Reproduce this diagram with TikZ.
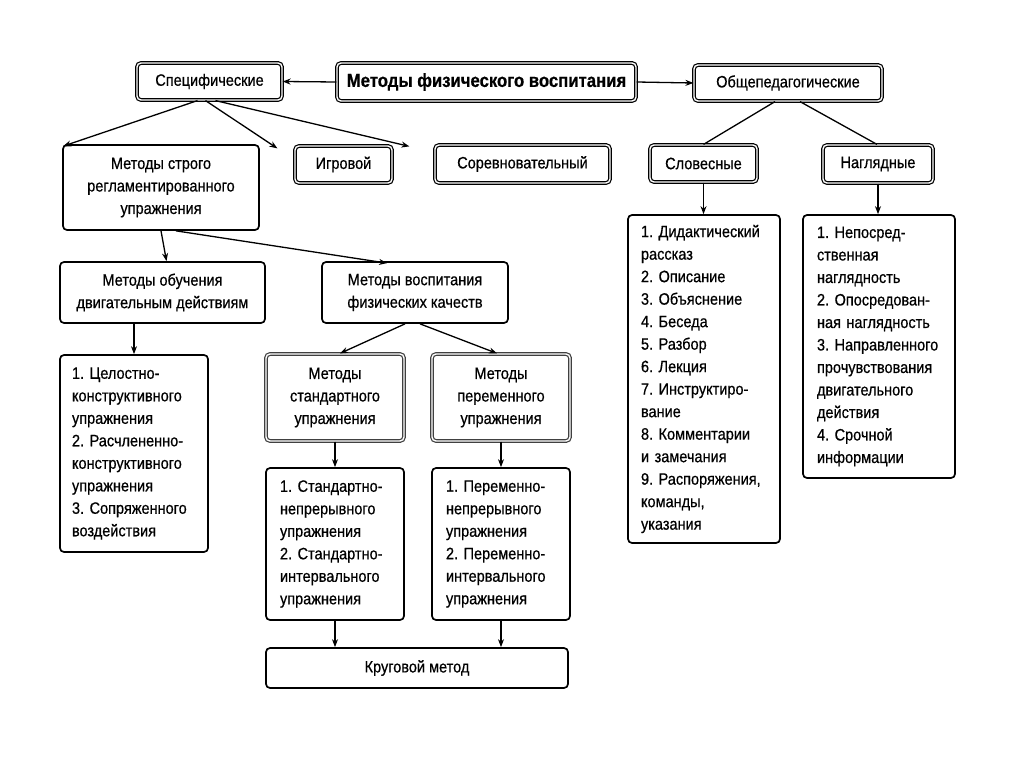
\documentclass[tikz,border=0pt]{standalone}
\usepackage{fontspec}
\setmainfont{Liberation Sans}[FakeStretch=0.88, FakeBold=0.6]
\frenchspacing
\usetikzlibrary{arrows.meta}
\begin{document}
\begin{tikzpicture}[x=1pt,y=-1pt,
  box/.style={draw=black, line width=1.7pt, rounded corners=4pt, align=center,
    inner sep=0pt, font=\fontsize{16.5}{22.5}\selectfont},
  listbox/.style={box, align=left},
  dbox/.style={box, double=white, double distance=1.4pt, line width=1.2pt},
  gbox/.style={box, draw=black!75, double=white, double distance=1.4pt, line width=1.2pt},
  arr/.style={-{Stealth[length=8pt,width=6pt]}, line width=1.3pt},
  ln/.style={line width=1.3pt}]
\useasboundingbox (0,0) rectangle (1024,767);
% top row
\node[dbox, minimum width=299, minimum height=38, font=\fontsize{19}{20}\selectfont\bfseries] (main) at (486.5,82) {Методы физического воспитания};
\node[dbox, minimum width=145, minimum height=37] (spec) at (209.5,81.5) {Специфические};
\node[dbox, minimum width=188, minimum height=36] (obsh) at (788,83) {Общепедагогические};
% second row
\node[box, minimum width=196, minimum height=85] (strog) at (161,187.5) {Методы строго\\регламентированного\\упражнения};
\node[dbox, minimum width=97, minimum height=37] (igr) at (343.5,164.5) {Игровой};
\node[dbox, minimum width=175, minimum height=38] (sorev) at (522.5,164) {Соревновательный};
\node[dbox, minimum width=107, minimum height=37] (slov) at (703.5,163.5) {Словесные};
\node[dbox, minimum width=110, minimum height=38] (nagl) at (878,164) {Наглядные};
% third row
\node[box, minimum width=205, minimum height=61] (obuch) at (162.5,292.5) {Методы обучения\\двигательным действиям};
\node[box, minimum width=186, minimum height=61] (vosp) at (415,292.5) {Методы воспитания\\физических качеств};
% lists
\node[listbox, minimum width=148, minimum height=197, text width=124] (list1) at (134,453.5) {1. Целостно-\\конструктивного\\упражнения\\2. Расчлененно-\\конструктивного\\упражнения\\3. Сопряженного\\воздействия};
\node[gbox, minimum width=138, minimum height=87] (std) at (335,397.5) {Методы\\стандартного\\упражнения};
\node[gbox, minimum width=138, minimum height=87] (var) at (501,397.5) {Методы\\переменного\\упражнения};
\node[listbox, minimum width=138, minimum height=152, text width=110] (stdl) at (335,544) {1. Стандартно-\\непрерывного\\упражнения\\2. Стандартно-\\интервального\\упражнения};
\node[listbox, minimum width=138, minimum height=152, text width=110] (varl) at (501,544) {1. Переменно-\\непрерывного\\упражнения\\2. Переменно-\\интервального\\упражнения};
\node[box, minimum width=302, minimum height=40] (krug) at (417,668) {Круговой метод};
\node[listbox, minimum width=152, minimum height=328, text width=126] (slovl) at (704,379) {1. Дидактический\\рассказ\\2. Описание\\3. Объяснение\\4. Беседа\\5. Разбор\\6. Лекция\\7. Инструктиро-\\вание\\8. Комментарии\\и замечания\\9. Распоряжения,\\команды,\\указания};
\node[listbox, minimum width=152, minimum height=263, text width=124] (nagll) at (879,346.5) {1. Непосред-\\ственная\\наглядность\\2. Опосредован-\\ная наглядность\\3. Направленного\\прочувствования\\двигательного\\действия\\4. Срочной\\информации};
% connectors
\draw[arr] (main.west) -- (spec.east);
\draw[arr] (main.east) -- (obsh.west);
\draw[arr] ([xshift=-12]spec.south) -- ([xshift=1,yshift=-2]strog.north west);
\draw[arr] ([xshift=-4]spec.south) -- ([xshift=-17,yshift=-3]igr.north west);
\draw[arr] ([xshift=6]spec.south) -- ([xshift=-25,yshift=-2]sorev.north west);
\draw[arr] (strog.south) -- ([xshift=4]obuch.north);
\draw[arr] ([xshift=15]strog.south) -- ([xshift=-28,yshift=-2]vosp.north);
\draw[arr] (obuch.south -| list1.north) -- (list1.north);
\draw[arr] ([xshift=-10]vosp.south) -- ([xshift=5]std.north);
\draw[arr] ([xshift=5]vosp.south) -- ([xshift=-4]var.north);
\draw[arr] (std.south) -- (stdl.north);
\draw[arr] (var.south) -- (varl.north);
\draw[arr] (stdl.south) -- (stdl.south |- krug.north);
\draw[arr] (varl.south) -- (varl.south |- krug.north);
\draw[ln] ([xshift=-13]obsh.south) -- (slov.north);
\draw[ln] ([xshift=12]obsh.south) -- ([xshift=-1]nagl.north);
\draw[arr] (slov.south) -- (slov.south |- slovl.north);
\draw[arr] (nagl.south) -- (nagl.south |- nagll.north);
\end{tikzpicture}
\end{document}
